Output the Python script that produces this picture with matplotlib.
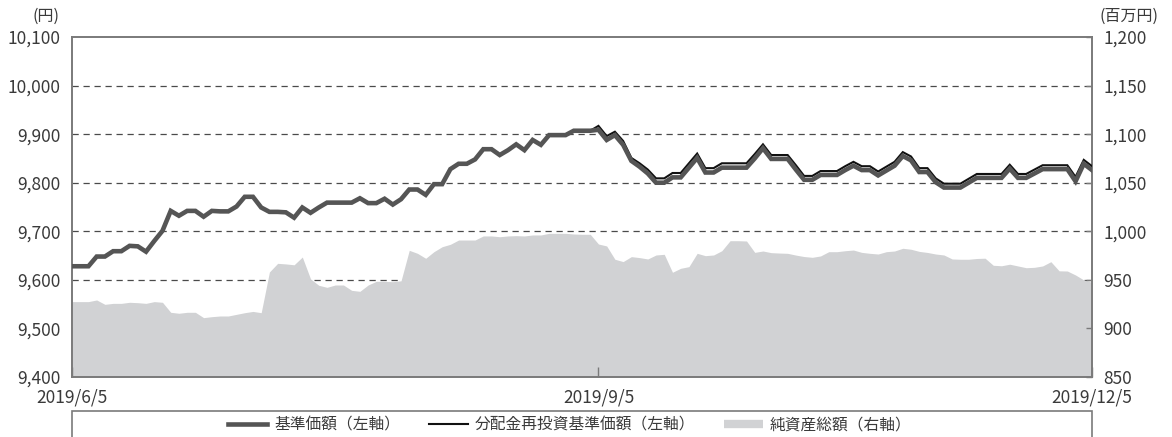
import matplotlib
matplotlib.use("Agg")
import matplotlib.pyplot as plt
from matplotlib.lines import Line2D
from matplotlib.patches import Rectangle
from matplotlib.ticker import FuncFormatter

plt.rcParams['font.family'] = ['Noto Sans CJK JP', 'DejaVu Sans']

# 基準価額 (円) - business days 2019/6/5 .. 2019/12/5
nav = [
    9628, 9628, 9628, 9648, 9648, 9659, 9659, 9670, 9669, 9658,
    9680, 9701, 9742, 9732, 9742, 9742, 9730, 9742, 9741, 9741,
    9751, 9771, 9771, 9749, 9740, 9740, 9739, 9728, 9749, 9738,
    9749, 9759, 9759, 9759, 9759, 9768, 9758, 9758, 9767, 9755,
    9766, 9786, 9786, 9775, 9797, 9797, 9828, 9839, 9839, 9848,
    9869, 9869, 9857, 9867, 9879, 9867, 9888, 9878, 9898, 9898,
    9898, 9907, 9907, 9907, 9909, 9888, 9898, 9878, 9845, 9833,
    9819, 9800, 9800, 9811, 9811, 9831, 9851, 9821, 9821, 9831,
    9831, 9831, 9831, 9850, 9871, 9849, 9849, 9849, 9827, 9806,
    9806, 9816, 9816, 9816, 9826, 9835, 9826, 9826, 9815, 9825,
    9835, 9855, 9846, 9822, 9822, 9801, 9790, 9790, 9790, 9800,
    9810, 9810, 9810, 9810, 9829, 9810, 9810, 9819, 9828, 9828,
    9828, 9828, 9803, 9839, 9826,
]

# 分配金再投資基準価額 (円)
nav_reinv = [
    9628, 9628, 9628, 9648, 9648, 9659, 9659, 9670, 9669, 9658,
    9680, 9701, 9742, 9732, 9742, 9742, 9730, 9742, 9741, 9741,
    9751, 9771, 9771, 9749, 9740, 9740, 9739, 9728, 9749, 9738,
    9749, 9759, 9759, 9759, 9759, 9768, 9758, 9758, 9767, 9755,
    9766, 9786, 9786, 9775, 9797, 9797, 9828, 9839, 9839, 9848,
    9869, 9869, 9857, 9867, 9879, 9867, 9888, 9878, 9898, 9898,
    9898, 9907, 9907, 9907, 9917, 9896, 9905, 9886, 9851, 9840,
    9827, 9809, 9809, 9820, 9820, 9840, 9860, 9830, 9830, 9840,
    9840, 9840, 9840, 9859, 9879, 9857, 9857, 9857, 9836, 9814,
    9814, 9824, 9824, 9824, 9834, 9843, 9834, 9834, 9823, 9833,
    9843, 9863, 9854, 9830, 9830, 9809, 9798, 9798, 9798, 9808,
    9818, 9818, 9818, 9818, 9837, 9818, 9818, 9827, 9836, 9836,
    9836, 9836, 9812, 9847, 9834,
]

# 純資産総額 (百万円)
net_assets = [
    927.6, 927.6, 927.6, 929.3, 924.8, 925.8, 925.8, 926.9, 926.5, 925.8,
    927.6, 926.9, 916.6, 915.6, 916.6, 916.6, 911.1, 912.1, 912.8, 912.8,
    914.5, 916.2, 917.5, 916.2, 958.1, 967.0, 966.4, 965.5, 973.5, 951.0,
    944.4, 942.3, 944.7, 944.7, 939.2, 938.2, 944.7, 948.5, 948.4, 948.1,
    949.0, 980.4, 977.3, 972.2, 979.0, 984.1, 986.6, 991.0, 991.0, 991.0,
    995.2, 995.2, 994.4, 995.2, 995.5, 995.2, 996.2, 996.2, 997.9, 997.9,
    997.9, 997.2, 996.9, 996.9, 986.9, 984.9, 971.2, 968.8, 973.9, 972.9,
    971.5, 975.6, 976.3, 957.8, 961.9, 963.6, 977.3, 974.9, 975.6, 980.0,
    990.3, 990.3, 990.0, 978.3, 979.7, 978.0, 977.6, 977.3, 975.5, 974.0,
    973.2, 974.6, 979.0, 979.0, 980.0, 980.7, 978.3, 977.3, 976.6, 979.0,
    979.7, 982.5, 981.5, 979.3, 978.2, 976.6, 975.6, 971.5, 971.2, 971.2,
    972.0, 972.3, 965.0, 964.5, 966.1, 964.3, 962.5, 962.9, 964.3, 968.7,
    959.3, 959.1, 955.0, 949.9, 947.5,
]

tick_labels = ["2019/6/5", "2019/9/5", "2019/12/5"]
tick_index = [0, 64, 124]

legend_labels = ["基準価額（左軸）", "分配金再投資基準価額（左軸）", "純資産総額（右軸）"]

W, H = 1172, 437
fig = plt.figure(figsize=(W / 100, H / 100), dpi=100)
ax = fig.add_axes([72 / W, 1 - 377 / H, 1020 / W, 340 / H])
ax2 = ax.twinx()
ax.set_zorder(2)
ax2.set_zorder(1)
ax.patch.set_visible(False)

x = list(range(len(nav)))

spine_c = '#7a7a7a'
text_c = '#3a3a3a'
area_c = '#d1d2d4'

# right axis: gridlines (under area) and area
ax2.set_ylim(850, 1200)
ax2.set_yticks(list(range(850, 1201, 50)))
for v in range(900, 1151, 50):
    ax2.axhline(v, color='#4a4a4a', lw=0.9, linestyle=(0, (5.0, 3.8)), zorder=0.5)
ax2.fill_between(x, 850, net_assets, color=area_c, lw=0, zorder=1)
ax2.yaxis.set_major_formatter(FuncFormatter(lambda v, p: f"{int(v):,}"))
ax2.tick_params(axis='y', direction='in', length=4, width=1, color=spine_c,
                pad=8, labelsize=12.5, labelcolor=text_c)

# left axis: lines
ax.plot(x, nav_reinv, color='#111111', lw=1.5, zorder=3, solid_joinstyle='miter')
ax.plot(x, nav, color='#555555', lw=3.3, zorder=4, solid_joinstyle='miter')
ax.set_xlim(0, len(nav) - 1)
ax.set_ylim(9400, 10100)
ax.set_yticks(list(range(9400, 10101, 100)))
ax.yaxis.set_major_formatter(FuncFormatter(lambda v, p: f"{int(v):,}"))
ax.tick_params(axis='y', length=0, pad=8, labelsize=12.5, labelcolor=text_c)
ax.set_xticks(tick_index)
ax.set_xticklabels(tick_labels)
ax.tick_params(axis='x', direction='in', length=7, width=1, color=spine_c,
               pad=8, labelsize=12.5, labelcolor=text_c)
ax2.tick_params(axis='x', length=0)

for a in (ax, ax2):
    for s in a.spines.values():
        s.set_color(spine_c)
        s.set_linewidth(1.2)

fig.text(46 / W, 1 - 16 / H, "(円)", ha='center', va='center', fontsize=11.5, color=text_c)
fig.text(1129 / W, 1 - 16 / H, "(百万円)", ha='center', va='center', fontsize=11.5, color=text_c)

handles = [
    Line2D([], [], color='#555555', lw=3.3),
    Line2D([], [], color='#111111', lw=1.5),
    Line2D([], [], color=area_c, lw=6, solid_capstyle='butt'),
]
fig.legend(handles, legend_labels, loc='center', bbox_to_anchor=(570 / W, 1 - 425 / H),
           ncol=3, frameon=False, fontsize=11.3, handlelength=2.5, handletextpad=0.45,
           columnspacing=1.8, labelcolor=text_c)
fig.patches.append(Rectangle((72 / W, -0.05), 1020 / W, 0.05 + (437 - 411) / H,
                             transform=fig.transFigure, fill=False,
                             edgecolor=spine_c, lw=1.2, clip_on=False))

fig.savefig("out.png", dpi=100)
